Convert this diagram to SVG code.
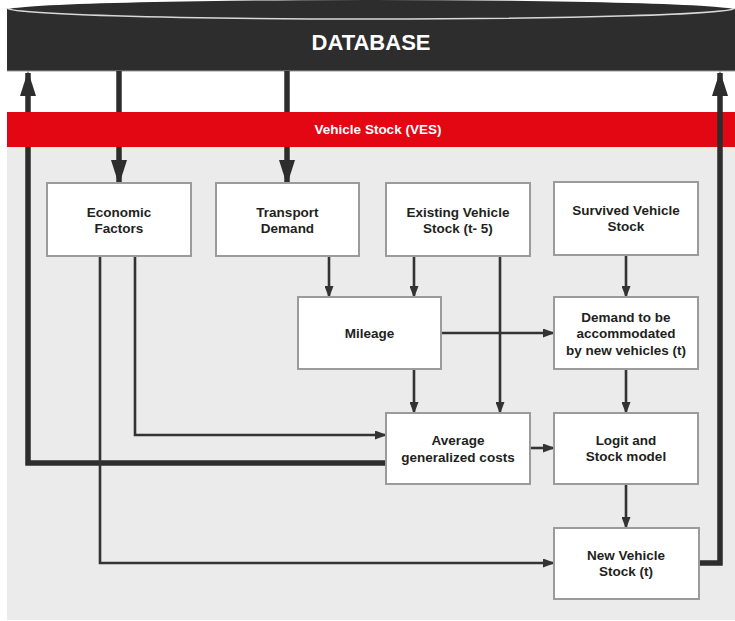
<svg xmlns="http://www.w3.org/2000/svg" width="735" height="621" viewBox="0 0 735 621">
<style>
.box{fill:#ffffff;stroke:#9b9b9b;stroke-width:2}
.t{font-family:"Liberation Sans",Arial,sans-serif;font-weight:bold;font-size:13.5px;fill:#231f20;text-anchor:middle}
.thin{fill:none;stroke:#333333;stroke-width:2.6}
.thick{fill:none;stroke:#2d2d2d;stroke-width:5.5}
</style>
<defs>
<marker id="ah" markerUnits="userSpaceOnUse" markerWidth="12" markerHeight="9" refX="11" refY="4.5" orient="auto">
<path d="M0,0 L12,4.5 L0,9 z" fill="#333333"/>
</marker>
<marker id="ahT" markerUnits="userSpaceOnUse" markerWidth="25" markerHeight="16" refX="23" refY="8" orient="auto">
<path d="M0,0 L25,8 L0,16 z" fill="#2d2d2d"/>
</marker>
</defs>
<rect x="0" y="0" width="735" height="621" fill="#ffffff"/>
<g id="database">
<rect x="7" y="9" width="728" height="62" fill="#2d2d2e"/>
<ellipse cx="371" cy="10" rx="364" ry="10" fill="#2d2d2e"/>
<path d="M7,8 A364,11 0 0 0 735,8" fill="none" stroke="#d8d8d8" stroke-width="1.6"/>
<line x1="7" y1="71" x2="735" y2="71" stroke="#9a9a9a" stroke-width="1"/>
<text x="371" y="50" font-family="'Liberation Sans',Arial,sans-serif" font-weight="bold" font-size="22" fill="#ffffff" text-anchor="middle">DATABASE</text>
</g>
<rect id="panel" x="7" y="146" width="728" height="474" fill="#ebebeb"/>
<g id="connectors">
<line class="thick" x1="119" y1="71" x2="119" y2="183" marker-end="url(#ahT)"/>
<line class="thick" x1="287" y1="71" x2="287" y2="183" marker-end="url(#ahT)"/>
<path class="thick" d="M386,463 H28 V73" marker-end="url(#ahT)"/>
<line class="thin" x1="329" y1="256" x2="329" y2="297" marker-end="url(#ah)"/>
<line class="thin" x1="414" y1="256" x2="414" y2="297" marker-end="url(#ah)"/>
<line class="thin" x1="500" y1="256" x2="500" y2="413" marker-end="url(#ah)"/>
<line class="thin" x1="626" y1="255" x2="626" y2="297" marker-end="url(#ah)"/>
<line class="thin" x1="441" y1="333" x2="554" y2="333" marker-end="url(#ah)"/>
<line class="thin" x1="414" y1="369" x2="414" y2="413" marker-end="url(#ah)"/>
<line class="thin" x1="626" y1="369" x2="626" y2="413" marker-end="url(#ah)"/>
<line class="thin" x1="530" y1="448" x2="554" y2="448" marker-end="url(#ah)"/>
<line class="thin" x1="626" y1="484" x2="626" y2="528" marker-end="url(#ah)"/>
<path class="thin" d="M135,256 V435 H386" marker-end="url(#ah)"/>
<path class="thin" d="M100,256 V563 H554" marker-end="url(#ah)"/>
</g>
<g id="ves">
<rect x="7" y="112" width="728" height="35" fill="#e30613"/>
<text x="378" y="134" font-family="'Liberation Sans',Arial,sans-serif" font-weight="bold" font-size="13.5" fill="#ffffff" text-anchor="middle">Vehicle Stock (VES)</text>
</g>
<g id="connectors-front">
<path class="thick" d="M699,563 H720 V73" marker-end="url(#ahT)"/>
</g>
<g id="economic"><rect class="box" x="47" y="183" width="144" height="73"/><text class="t" x="119" y="217">Economic</text><text class="t" x="119" y="233">Factors</text></g>
<g id="transport"><rect class="box" x="216" y="183" width="143" height="73"/><text class="t" x="287.5" y="217">Transport</text><text class="t" x="287.5" y="233">Demand</text></g>
<g id="existing"><rect class="box" x="386" y="183" width="144" height="73"/><text class="t" x="458" y="217">Existing Vehicle</text><text class="t" x="458" y="233">Stock (t- 5)</text></g>
<g id="survived"><rect class="box" x="554" y="182" width="144" height="73"/><text class="t" x="626" y="215">Survived Vehicle</text><text class="t" x="626" y="231">Stock</text></g>
<g id="mileage"><rect class="box" x="298" y="297" width="143" height="72"/><text class="t" x="369.5" y="338">Mileage</text></g>
<g id="demand"><rect class="box" x="554" y="297" width="144" height="72"/><text class="t" x="626" y="322">Demand to be</text><text class="t" x="626" y="338">accommodated</text><text class="t" x="626" y="355">by new vehicles (t)</text></g>
<g id="average"><rect class="box" x="386" y="413" width="144" height="71"/><text class="t" x="458" y="445">Average</text><text class="t" x="458" y="462">generalized costs</text></g>
<g id="logit"><rect class="box" x="554" y="413" width="144" height="71"/><text class="t" x="626" y="445">Logit and</text><text class="t" x="626" y="461">Stock model</text></g>
<g id="newstock"><rect class="box" x="554" y="528" width="145" height="71"/><text class="t" x="626" y="560">New Vehicle</text><text class="t" x="626" y="576">Stock (t)</text></g>
</svg>
